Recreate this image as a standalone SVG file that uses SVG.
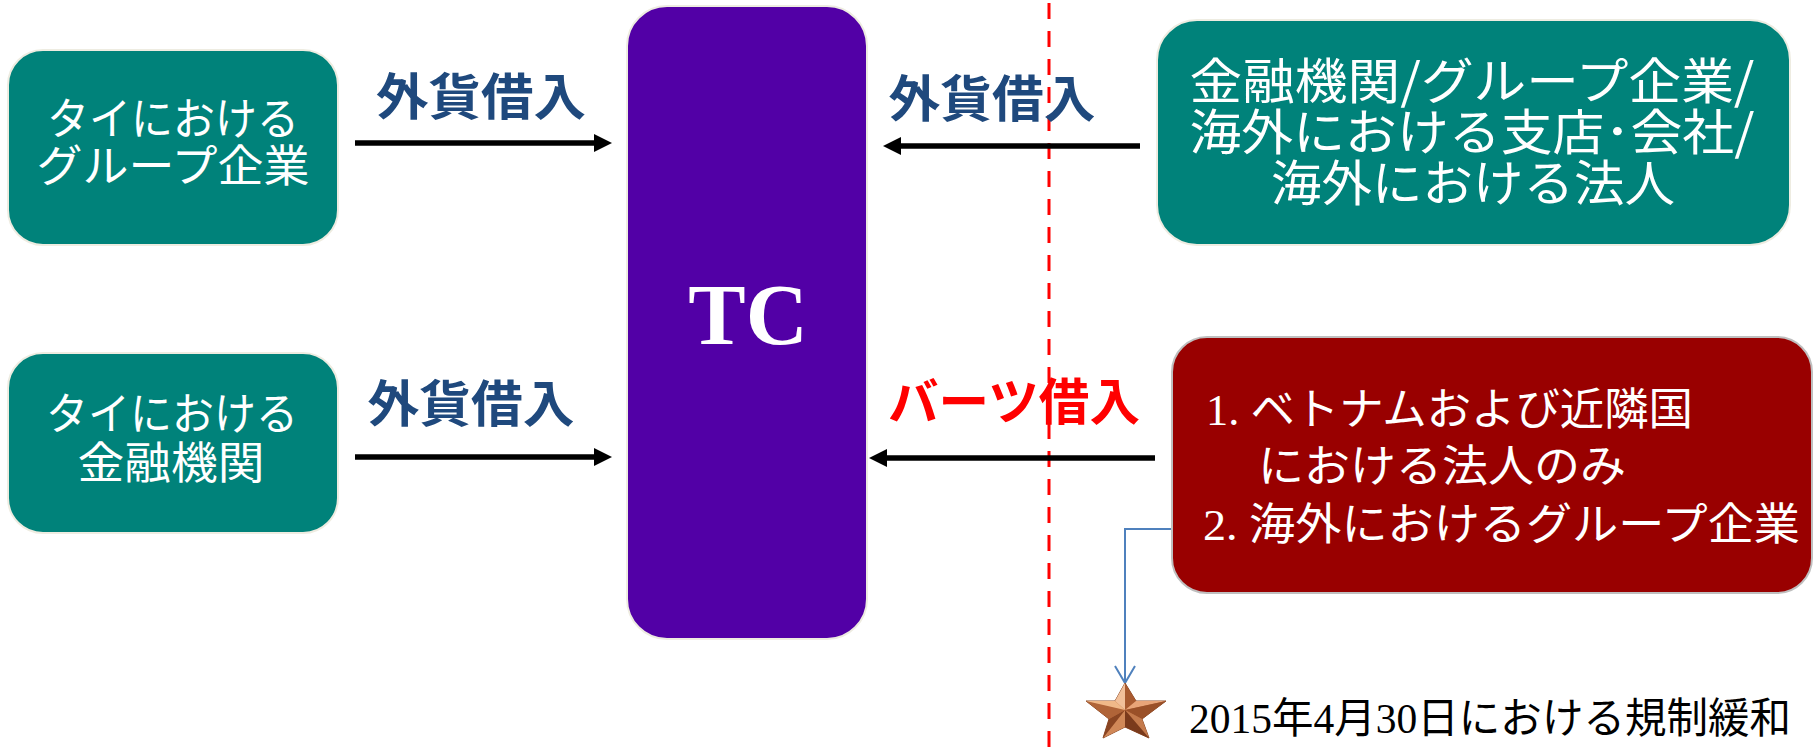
<svg xmlns="http://www.w3.org/2000/svg" width="1814" height="755" viewBox="0 0 1814 755">
<style>
.teal{fill:#00827A;stroke:#EEECE1;stroke-width:2}
.wt{fill:#ffffff;font-family:"Noto Sans CJK JP","Noto Sans",sans-serif;text-anchor:middle}
.lbl{font-family:"Noto Sans CJK JP","Noto Sans",sans-serif;font-weight:bold;font-size:50px;text-anchor:middle}
.arr{stroke:#000;stroke-width:5.5;fill:none}
.ser{font-family:"Liberation Serif",serif}
</style>
<defs>
<marker id="ah" markerUnits="userSpaceOnUse" markerWidth="18" markerHeight="18" refX="8" refY="9" orient="auto">
<path d="M0,0 L18,9 L0,18 z" fill="#000"/>
</marker>
</defs>
<line x1="1049" y1="3" x2="1049" y2="755" stroke="#FF0000" stroke-width="3" stroke-dasharray="16 12"/>
<g id="tai-group">
<rect class="teal" x="8" y="50" width="330" height="195" rx="35"/>
<text class="wt" font-size="44"><tspan x="173" y="135" textLength="252" lengthAdjust="spacingAndGlyphs">タイにおける</tspan><tspan x="173" y="182" textLength="273" lengthAdjust="spacingAndGlyphs">グループ企業</tspan></text>
</g>
<g id="tai-fin">
<rect class="teal" x="8" y="353" width="330" height="180" rx="35"/>
<text class="wt" font-size="44"><tspan x="172" y="430" textLength="252" lengthAdjust="spacingAndGlyphs">タイにおける</tspan><tspan x="171" y="479" textLength="187" lengthAdjust="spacingAndGlyphs">金融機関</tspan></text>
</g>
<g id="tc">
<rect x="627" y="6" width="240" height="633" rx="40" fill="#5200A6" stroke="#EEECE1" stroke-width="2"/>
<text x="748" y="344" font-family="Liberation Serif,serif" font-weight="bold" font-size="86" fill="#fff" text-anchor="middle">TC</text>
</g>
<g id="overseas">
<rect class="teal" x="1157" y="20" width="633" height="225" rx="40"/>
<text class="wt" font-size="49"><tspan x="1472" y="99" textLength="565" lengthAdjust="spacingAndGlyphs">金融機関/グループ企業/</tspan><tspan x="1472" y="150" textLength="565" lengthAdjust="spacingAndGlyphs">海外における支店･会社/</tspan><tspan x="1473" y="201" textLength="404" lengthAdjust="spacingAndGlyphs">海外における法人</tspan></text>
</g>
<g id="baht">
<rect x="1172" y="337" width="640" height="256" rx="35" fill="#990000" stroke="#BFBFBF" stroke-width="2"/>
<text fill="#fff" font-family="Noto Sans CJK JP,sans-serif" font-size="44"><tspan x="1206" y="425" textLength="487" lengthAdjust="spacingAndGlyphs"><tspan class="ser">1. </tspan>ベトナムおよび近隣国</tspan><tspan x="1258" y="482" textLength="368" lengthAdjust="spacingAndGlyphs">における法人のみ</tspan><tspan x="1203" y="540" textLength="597" lengthAdjust="spacingAndGlyphs"><tspan class="ser">2. </tspan>海外におけるグループ企業</tspan></text>
</g>
<g id="connectors">
<line class="arr" x1="355" y1="143" x2="602" y2="143" marker-end="url(#ah)"/>
<line class="arr" x1="355" y1="457" x2="602" y2="457" marker-end="url(#ah)"/>
<line class="arr" x1="1140" y1="146" x2="893" y2="146" marker-end="url(#ah)"/>
<line class="arr" x1="1155" y1="458" x2="879" y2="458" marker-end="url(#ah)"/>
<path d="M1171,529 H1125 V683" fill="none" stroke="#4F81BD" stroke-width="2"/>
<polyline points="1115,666 1125,683 1135,666" fill="none" stroke="#4F81BD" stroke-width="2"/>
</g>
<g id="labels">
<text class="lbl" fill="#1F497D" x="481" y="115" textLength="210" lengthAdjust="spacingAndGlyphs">外貨借入</text>
<text class="lbl" fill="#1F497D" x="471" y="422" textLength="207" lengthAdjust="spacingAndGlyphs">外貨借入</text>
<text class="lbl" fill="#1F497D" x="992" y="117" textLength="207" lengthAdjust="spacingAndGlyphs">外貨借入</text>
<text class="lbl" fill="#FF0000" x="1014" y="420" textLength="252" lengthAdjust="spacingAndGlyphs">バーツ借入</text>
</g>
<g id="star">
<polygon points="1125,683 1136,701 1166,701 1142,719 1149,738 1125,727 1103,738 1109,719 1086,701 1115,701" fill="#B8683C" stroke="#8A4A28" stroke-width="1"/>
<polygon points="1125,683 1125,710 1115,701" fill="#F2C09A"/>
<polygon points="1125,683 1136,701 1125,710" fill="#A85A30"/>
<polygon points="1166,701 1136,701 1125,710" fill="#E8A478"/>
<polygon points="1166,701 1125,710 1142,719" fill="#9A5028"/>
<polygon points="1149,738 1142,719 1125,710" fill="#C47A4C"/>
<polygon points="1149,738 1125,710 1125,727" fill="#7A3A1C"/>
<polygon points="1103,738 1125,727 1125,710" fill="#D08858"/>
<polygon points="1103,738 1125,710 1109,719" fill="#8A4522"/>
<polygon points="1086,701 1109,719 1125,710" fill="#B06438"/>
<polygon points="1086,701 1125,710 1115,701" fill="#F0B888"/>
</g>
<text x="1189" y="733" font-family="Noto Sans CJK JP,sans-serif" font-size="42" fill="#000" textLength="602" lengthAdjust="spacingAndGlyphs"><tspan class="ser">2015</tspan>年<tspan class="ser">4</tspan>月<tspan class="ser">30</tspan>日における規制緩和</text>
</svg>
